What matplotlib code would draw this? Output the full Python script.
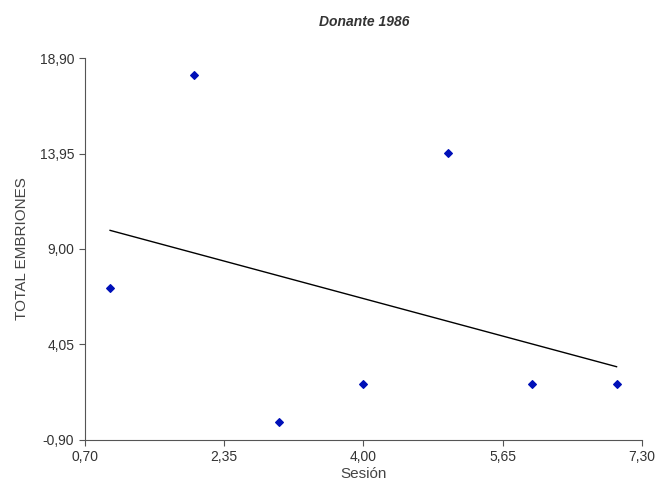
import numpy as np
import matplotlib
matplotlib.use('Agg')
import matplotlib.pyplot as plt

# data
sesion = [1, 2, 3, 4, 5, 6, 7]
total_embriones = [7, 18, 0, 2, 14, 2, 2]
x_ticks = [0.70, 2.35, 4.00, 5.65, 7.30]
y_ticks = [-0.90, 4.05, 9.00, 13.95, 18.90]

plt.rcParams['font.family'] = ['Liberation Sans', 'DejaVu Sans']

fig = plt.figure(figsize=(6.57, 4.92), dpi=100)
ax = fig.add_axes([0.129, 0.106, 0.848, 0.776])

# linear fit line
slope, intercept = np.polyfit(sesion, total_embriones, 1)
xs = np.array([min(sesion), max(sesion)])
ax.plot(xs, slope * xs + intercept, color='black', lw=1.0)

ax.scatter(sesion, total_embriones, marker='D', s=15, color='#0010b8', zorder=3)

ax.set_xlim(x_ticks[0], x_ticks[-1])
ax.set_ylim(y_ticks[0], y_ticks[-1])
ax.set_xticks(x_ticks)
ax.set_yticks(y_ticks)
ax.set_xticklabels([('%.2f' % t).replace('.', ',') for t in x_ticks])
ax.set_yticklabels([('%.2f' % t).replace('.', ',') for t in y_ticks])
ax.tick_params(direction='out', length=4, color='#555555', labelsize=10, labelcolor='#333333')

for s in ['top', 'right']:
	ax.spines[s].set_visible(False)
for s in ['left', 'bottom']:
	ax.spines[s].set_color('#555555')

ax.set_xlabel('Sesión', fontsize=11, color='#444444', labelpad=2)
ax.set_ylabel('TOTAL EMBRIONES', fontsize=11, color='#444444', labelpad=8)
fig.text(0.555, 0.955, 'Donante 1986', ha='center', va='center', fontsize=10, style='italic', weight='bold', color='#333333')

fig.savefig('out.png', dpi=100)
